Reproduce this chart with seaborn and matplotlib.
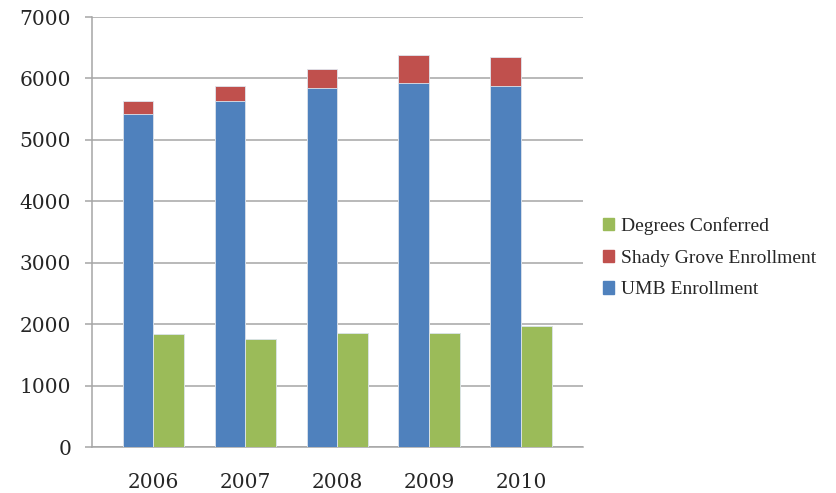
import pandas as pd
import numpy as np
import matplotlib
matplotlib.use('Agg')
import matplotlib.pyplot as plt
from matplotlib.patches import Patch
import seaborn as sns

years = ['2006', '2007', '2008', '2009', '2010']
umb = [5416, 5637, 5844, 5930, 5881]
shady = [216, 244, 314, 450, 470]
degrees = [1835, 1758, 1851, 1851, 1975]

blue = '#4F81BD'
red = '#C0504D'
green = '#9BBB59'

sns.set_style('white')
plt.rcParams['font.family'] = ['Liberation Serif', 'DejaVu Serif']

total = [u + s for u, s in zip(umb, shady)]

top = pd.DataFrame({
    'year': years * 2,
    'value': total + degrees,
    'series': ['Enrollment'] * 5 + ['Degrees Conferred'] * 5
})
base = pd.DataFrame({
    'year': years * 2,
    'value': umb + degrees,
    'series': ['Enrollment'] * 5 + ['Degrees Conferred'] * 5
})

fig = plt.figure(figsize=(8.36, 4.93), dpi=100)
ax = fig.add_axes([0.110, 0.0933, 0.587, 0.8722])

# red = total, blue drawn over it, green repeated in both layers
sns.barplot(data=top, x='year', y='value', hue='series', order=years,
            hue_order=['Enrollment', 'Degrees Conferred'],
            palette=[red, green], saturation=1, width=0.667, dodge=True, ax=ax,
            edgecolor='#dfe6ee', linewidth=0.6, legend=False, zorder=2)
sns.barplot(data=base, x='year', y='value', hue='series', order=years,
            hue_order=['Enrollment', 'Degrees Conferred'],
            palette=[blue, green], saturation=1, width=0.667, dodge=True, ax=ax,
            edgecolor='#dfe6ee', linewidth=0.6, legend=False, zorder=3)

ax.set_xlim(-0.667, 4.67)
ax.set_ylim(0, 7000)
ax.set_yticks(range(0, 7001, 1000))
ax.yaxis.grid(True, color='#a6a6a6', linewidth=1.1, zorder=0)
ax.set_axisbelow(True)
ax.set_xlabel('')
ax.set_ylabel('')

for side in ['top', 'right']:
    ax.spines[side].set_visible(False)
for side in ['left', 'bottom']:
    ax.spines[side].set_color('#a6a6a6')
    ax.spines[side].set_linewidth(1.1)

tick_font = {'family': ['DejaVu Serif'], 'size': 14.5}
ax.tick_params(axis='y', length=5, width=1.1, color='#a6a6a6', pad=10, left=True)
ax.tick_params(axis='x', length=0, pad=19)
for lab in ax.get_yticklabels() + ax.get_xticklabels():
    lab.set_fontfamily(tick_font['family'])
    lab.set_fontsize(tick_font['size'])

handles = [Patch(color=green, label='Degrees Conferred'),
           Patch(color=red, label='Shady Grove Enrollment'),
           Patch(color=blue, label='UMB Enrollment')]
fig.legend(handles=handles, loc='center left', bbox_to_anchor=(0.70, 0.477),
           frameon=False, fontsize=14, handlelength=0.6, handleheight=0.6,
           handletextpad=0.35, labelspacing=0.75)

fig.savefig('out.png', dpi=100)
